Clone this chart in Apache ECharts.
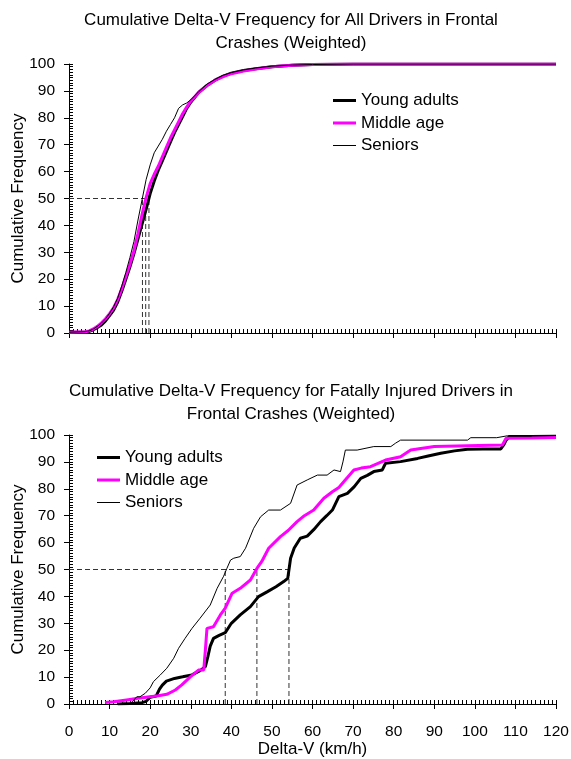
<!DOCTYPE html>
<html>
<head>
<meta charset="utf-8">
<script src="https://cdn.jsdelivr.net/npm/echarts@6/dist/echarts.min.js"></script>
<style>
    html, body { margin: 0; padding: 0; background: #fff; }
    #main { width: 571px; height: 759px; }
</style>
</head>
<body>
<div id="main"></div>
<script>
// 图例名称
var seriesNames = ['Young adults', 'Middle age', 'Seniors'];

// 上图: All Drivers (共用 x)
var topX = [0, 4, 5, 6, 7, 8, 9, 10, 11, 12, 13, 14, 15, 16, 17, 18, 19, 20, 21, 22, 23, 24, 25, 26, 27, 28, 29, 30, 32, 34, 36, 38, 40, 43, 46, 50, 55, 60, 70, 120];
var topYoung = [0.3, 0.4, 0.6, 1.2, 2, 3, 4.5, 6.5, 8.5, 11.5, 15.5, 20, 24.5, 29.5, 35, 40.5, 46, 51.8, 56.5, 60.5, 64, 67.5, 71, 74.5, 77.5, 80.5, 83.5, 85.8, 89.5, 92, 94, 95.5, 96.6, 97.6, 98.2, 99, 99.5, 99.8, 100, 100];
var topMiddle = [0.3, 0.5, 0.8, 1.5, 2.5, 3.8, 5.3, 7.2, 9.4, 12.5, 16.5, 21, 25.5, 30.5, 37, 44, 50.3, 55.5, 59, 62, 65.5, 69, 72.5, 75.5, 78.5, 81.5, 84, 86.2, 89.5, 92, 94, 95.3, 96.4, 97.4, 98.1, 99, 99.5, 99.8, 100, 100];
var topSeniors = [0.3, 0.5, 0.8, 1.5, 2.5, 3.7, 5.3, 7.3, 9.8, 13, 17.5, 22.5, 28, 34, 42, 49.5, 57, 62.5, 67, 69.5, 72, 75, 77.5, 80, 83.5, 84.8, 85.5, 86.7, 89.8, 92.5, 94.3, 95.8, 96.8, 97.8, 98.5, 99.2, 99.6, 99.8, 100, 100];
var topMedians = [18.1, 18.9, 19.7];

// 下图: Fatally Injured Drivers
var botYoungX = [12, 15, 18, 19, 20, 21.5, 22.3, 23, 24, 26, 28, 30.3, 32.3, 33.6, 34.2, 34.8, 35.6, 37, 38.5, 40, 42.2, 44.7, 46.7, 48.8, 51, 52.9, 53.9, 54.6, 55.5, 57, 58.7, 60.3, 62, 63.5, 64.9, 66.5, 68.6, 70.3, 71.9, 73.5, 75.1, 77.2, 78, 81.7, 85.9, 88.5, 91.6, 95, 98.2, 102, 106.4, 107.2, 107.7, 108.5, 114, 120];
var botYoungY = [0, 0.2, 0.5, 1, 2.5, 3, 5.5, 7, 8.5, 9.5, 10.1, 10.8, 12.4, 13.9, 17.5, 21.5, 24.4, 25.5, 26.5, 30, 33.1, 36.2, 39.9, 41.7, 43.6, 45.5, 46.7, 54.2, 58, 61.6, 62.4, 64.8, 67.8, 70, 72.1, 77.1, 78.3, 80.8, 83.9, 85, 86.4, 87, 89.5, 90.1, 91.3, 92.2, 93.2, 94.1, 94.7, 94.8, 94.8, 96.5, 98.1, 99.4, 99.4, 99.5];
var botMiddleX = [8.9, 11, 14.2, 17, 20, 22, 24.1, 26.2, 27.8, 29.9, 31.9, 33.2, 33.6, 34, 35.6, 37.3, 38.5, 40.2, 42.2, 44.7, 46.3, 47.5, 49.2, 52.1, 54, 56.2, 58, 60.3, 62.8, 64.9, 66.5, 67.7, 70.2, 72, 74.3, 78, 81.7, 84.2, 90, 98.2, 106.8, 107.7, 114, 120];
var botMiddleY = [0.6, 0.8, 1.5, 2.1, 2.7, 3.1, 3.6, 5.2, 7.1, 10.1, 12.6, 12.6, 20, 28.1, 28.7, 33.1, 35.6, 41.2, 43, 46.1, 50.4, 53, 57.9, 62.2, 64.5, 67.8, 70, 72.1, 76.5, 78.9, 80.5, 82.6, 87, 87.7, 88.2, 90.7, 91.9, 94.4, 95.7, 96, 96.3, 98.8, 98.9, 99.1];
var botSeniorsX = [15, 16, 16.7, 17.5, 18.8, 20, 20.8, 22.5, 24.1, 25.8, 27, 28.6, 30.3, 32.3, 34.8, 36.5, 38.1, 38.9, 39.8, 40.6, 42.2, 43.5, 45.5, 47.2, 49.2, 52.1, 54.6, 56.2, 58.7, 61.2, 63.6, 65.3, 66.9, 67.5, 68.1, 71, 75.1, 79.3, 80.5, 81.7, 98.2, 99, 105.4, 108, 120];
var botSeniorsY = [0, 1.5, 2.7, 2.7, 4, 6, 8.3, 10.8, 13.3, 17, 20.7, 24.4, 28.1, 31.9, 36.8, 43, 47.5, 50.4, 53.5, 54.2, 54.8, 57.9, 65.3, 69.6, 72.1, 72.1, 74.6, 81.4, 83.3, 85.1, 85.1, 87, 86.4, 90, 94.4, 94.4, 95.7, 95.7, 97, 98.1, 98.1, 99, 99, 99.7, 99.8];
var botMedians = [38.5, 46.3, 54.2];

// 刻度
var xTicks = [0, 120, 10];
var yTicks = [0, 100, 10];

var FONT = 'Liberation Sans';

function pairs(xs, ys) {
    var out = [];
    for (var i = 0; i < xs.length; i++) {
        out.push([xs[i], ys[i]]);
    }
    return out;
}

// 三条曲线的样式
var lineStyles = [
    { color: '#000000', width: 3 },
    { color: '#ff00ff', width: 3 },
    { color: '#000000', width: 1 }
];

// 图例的线条图标 (角上的小点用来撑开包围盒)
var legendIcons = [
    'path://M0,0H0.01V0.01H0Z M0,6H23V9H0Z M22.99,14.99H23V15H22.99Z',
    'path://M0,0H0.01V0.01H0Z M0,6H23V9H0Z M22.99,14.99H23V15H22.99Z',
    'path://M0,0H0.01V0.01H0Z M0,7H23V8H0Z M22.99,14.99H23V15H22.99Z'
];

function curve(name, idx, grid, data) {
    return {
        name: name,
        type: 'line',
        xAxisIndex: grid * 2,
        yAxisIndex: grid * 2,
        data: data,
        symbol: 'none',
        showSymbol: false,
        color: lineStyles[idx].color,
        lineStyle: lineStyles[idx],
        z: 3 + idx,
        silent: true
    };
}

// 中位数虚线
function medianLines(grid, medians) {
    var list = [];
    var maxX = Math.max.apply(null, medians);
    list.push({
        name: 'median-h-' + grid,
        type: 'line',
        xAxisIndex: grid * 2,
        yAxisIndex: grid * 2,
        data: [[0, 50], [maxX, 50]],
        symbol: 'none',
        lineStyle: { color: '#333', width: 1, type: [5, 3] },
        z: 2,
        silent: true
    });
    for (var i = 0; i < medians.length; i++) {
        list.push({
            name: 'median-v-' + grid + '-' + i,
            type: 'line',
            xAxisIndex: grid * 2,
            yAxisIndex: grid * 2,
            data: [[medians[i], 0], [medians[i], 50]],
            symbol: 'none',
            lineStyle: { color: '#333', width: 1, type: [5, 3] },
            z: 2,
            silent: true
        });
    }
    return list;
}

function mainX(grid, showLabel) {
    return {
        gridIndex: grid, type: 'value', position: 'bottom',
        min: xTicks[0], max: xTicks[1], interval: xTicks[2],
        name: showLabel ? 'Delta-V (km/h)' : '',
        nameLocation: 'middle',
        nameGap: 37,
        nameMoveOverlap: false,
        nameTextStyle: { color: '#000', fontSize: 17, fontFamily: FONT },
        axisLine: { lineStyle: { color: '#000', width: 1 } },
        axisTick: { length: 5, lineStyle: { color: '#000' } },
        axisLabel: { show: showLabel, color: '#000', fontSize: 15.5, fontFamily: FONT, margin: 20 },
        splitLine: { show: false }
    };
}
function minorX(grid) {
    return {
        gridIndex: grid, type: 'value', position: 'bottom',
        min: xTicks[0], max: xTicks[1], interval: 1,
        axisLine: { show: false },
        axisTick: { inside: true, length: 4, lineStyle: { color: '#000' } },
        axisLabel: { show: false },
        splitLine: { show: false }
    };
}
function mainY(grid) {
    return {
        gridIndex: grid, type: 'value', position: 'left',
        min: yTicks[0], max: yTicks[1], interval: yTicks[2],
        name: 'Cumulative Frequency',
        nameLocation: 'middle',
        nameGap: 42,
        nameMoveOverlap: false,
        nameTextStyle: { color: '#000', fontSize: 17, fontFamily: FONT },
        axisLine: { show: true, lineStyle: { color: '#000', width: 1 } },
        axisTick: { show: true, length: 5, lineStyle: { color: '#000' } },
        axisLabel: { color: '#000', fontSize: 15.5, fontFamily: FONT, margin: 14 },
        splitLine: { show: false }
    };
}
function minorY(grid) {
    return {
        gridIndex: grid, type: 'value', position: 'left',
        min: yTicks[0], max: yTicks[1], interval: 1,
        axisLine: { show: false },
        axisTick: { show: true, inside: true, length: 4, lineStyle: { color: '#000' } },
        axisLabel: { show: false },
        splitLine: { show: false }
    };
}

var series = [];
series.push(curve(seriesNames[0], 0, 0, pairs(topX, topYoung)));
series.push(curve(seriesNames[1], 1, 0, pairs(topX, topMiddle)));
series.push(curve(seriesNames[2], 2, 0, pairs(topX, topSeniors)));
series = series.concat(medianLines(0, topMedians));
series.push(curve(seriesNames[0], 0, 1, pairs(botYoungX, botYoungY)));
series.push(curve(seriesNames[1], 1, 1, pairs(botMiddleX, botMiddleY)));
series.push(curve(seriesNames[2], 2, 1, pairs(botSeniorsX, botSeniorsY)));
series = series.concat(medianLines(1, botMedians));

var legendData = [];
for (var k = 0; k < seriesNames.length; k++) {
    legendData.push({
        name: seriesNames[k],
        icon: legendIcons[k],
        itemStyle: { color: lineStyles[k].color, borderWidth: 0 }
    });
}

var legendBase = {
    orient: 'vertical',
    data: legendData,
    padding: 0,
    itemWidth: 23,
    itemHeight: 15,
    itemGap: 5.5,
    selectedMode: false,
    textStyle: { color: '#000', fontSize: 17, fontFamily: FONT }
};

var titleStyle = { color: '#000', fontSize: 17, fontWeight: 'normal', lineHeight: 23, fontFamily: FONT };

var option = {
    animation: false,
    backgroundColor: '#fff',
    textStyle: { fontFamily: FONT },
    title: [{
        text: 'Cumulative Delta-V Frequency for All Drivers in Frontal\nCrashes (Weighted)',
        left: 291, top: 9, padding: 0, textAlign: 'center',
        textStyle: titleStyle
    }, {
        text: 'Cumulative Delta-V Frequency for Fatally Injured Drivers in\nFrontal Crashes (Weighted)',
        left: 291, top: 380, padding: 0, textAlign: 'center',
        textStyle: titleStyle
    }],
    legend: [
        Object.assign({}, legendBase, { left: 333, top: 92 }),
        Object.assign({}, legendBase, { left: 97, top: 449 })
    ],
    grid: [
        { left: 69, right: 15, top: 64, height: 269, outerBoundsMode: 'none' },
        { left: 69, right: 15, top: 435, height: 269, outerBoundsMode: 'none' }
    ],
    xAxis: [mainX(0, false), minorX(0), mainX(1, true), minorX(1)],
    yAxis: [mainY(0), minorY(0), mainY(1), minorY(1)],
    series: series
};

//初始化echarts实例
var myChart = echarts.init(document.getElementById('main'));
myChart.setOption(option);
</script>
</body>
</html>
